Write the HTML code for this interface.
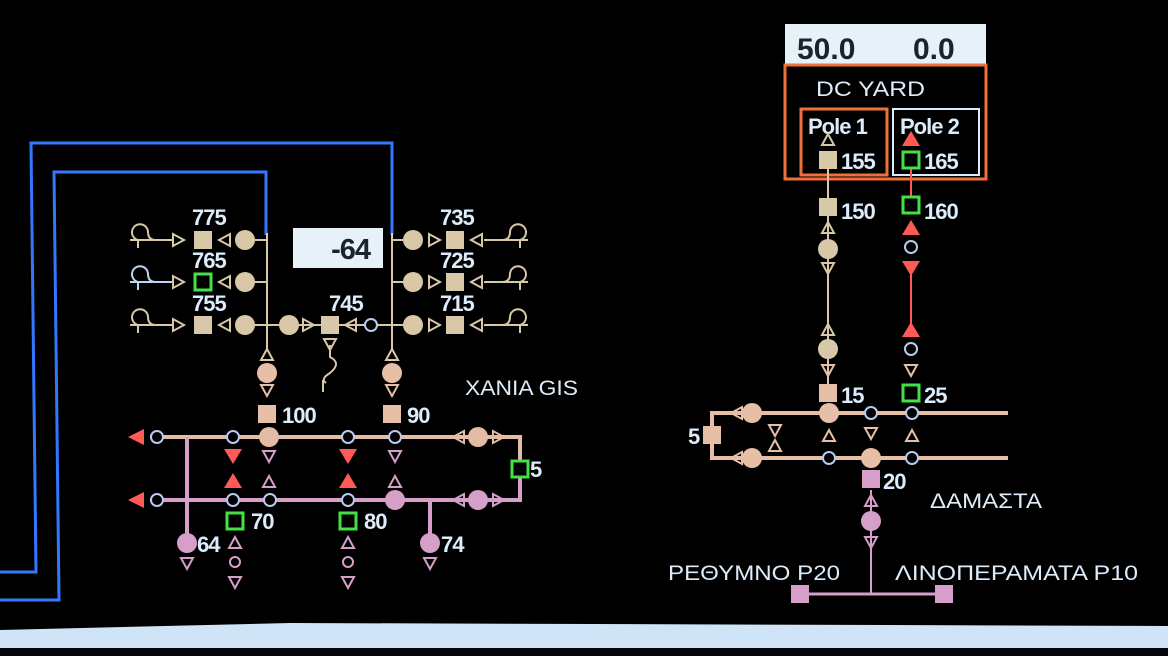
<!DOCTYPE html>
<html><head><meta charset="utf-8"><style>
html,body{margin:0;padding:0;background:#000;}
svg{display:block;}
text{font-family:"Liberation Sans",sans-serif;}
</style></head><body>
<svg width="1168" height="656" viewBox="0 0 1168 656" xmlns="http://www.w3.org/2000/svg">
<defs>
<g id="tu"><polygon points="0,-6 6,5 -6,5" fill="none" stroke="currentColor" stroke-width="2"/></g>
<g id="td"><polygon points="0,6 6,-5 -6,-5" fill="none" stroke="currentColor" stroke-width="2"/></g>
<g id="tr"><polygon points="6,0 -5,-6 -5,6" fill="none" stroke="currentColor" stroke-width="2"/></g>
<g id="tl"><polygon points="-6,0 5,-6 5,6" fill="none" stroke="currentColor" stroke-width="2"/></g>
<g id="ftu"><polygon points="0,-8 9,7 -9,7" fill="#ff5a55"/></g>
<g id="ftd"><polygon points="0,8 9,-7 -9,-7" fill="#ff5a55"/></g>
<g id="hc"><circle r="6" fill="#000" stroke="#b9c9ee" stroke-width="2"/></g>
<g id="fc"><circle r="10" fill="currentColor"/></g>
<g id="sq"><rect x="-9" y="-9" width="18" height="18" fill="currentColor"/></g>
<g id="gsq"><rect x="-8" y="-8" width="16" height="16" fill="#000" stroke="#45e045" stroke-width="3"/></g>
<g id="waveL"><path d="M-28,0 H16 M-20,0 a8,8 0 1 1 10,-8 M-20,-1 v9 M-10,-8 q0,8 8,8" fill="none" stroke="currentColor" stroke-width="2"/></g>
<g id="waveR"><path d="M28,0 H-16 M20,0 a8,8 0 1 0 -10,-8 M20,-1 v9 M10,-8 q0,8 -8,8" fill="none" stroke="currentColor" stroke-width="2"/></g>
</defs>

<g fill="none" stroke="#3377ff" stroke-width="3">
<path d="M0,572 H36 L31,143 H392 V235"/>
<path d="M0,600 H59 L54,172 H266 V235"/>
</g>

<g stroke="#d8c8a8" stroke-width="2" fill="none">
<line x1="267" y1="233" x2="267" y2="350"/>
<line x1="392" y1="233" x2="392" y2="350"/>
<line x1="245" y1="240" x2="267" y2="240"/>
<line x1="245" y1="282" x2="267" y2="282"/>
<line x1="245" y1="325" x2="392" y2="325"/>
<line x1="392" y1="240" x2="413" y2="240"/>
<line x1="392" y1="282" x2="413" y2="282"/>
<line x1="392" y1="325" x2="413" y2="325"/>
<path d="M330,345 v12 q12,6 0,16 q-10,6 -4,10 M323,380 v12" />
</g>
<g color="#d8c8a8">
<use href="#waveL" x="158" y="240"/><use href="#tr" x="178" y="240"/><use href="#sq" x="203" y="240"/><use href="#tl" x="225" y="240"/><use href="#fc" x="245" y="240"/>
<use href="#tl" x="225" y="282"/><use href="#fc" x="245" y="282"/>
<use href="#waveL" x="158" y="325"/><use href="#tr" x="178" y="325"/><use href="#sq" x="203" y="325"/><use href="#tl" x="225" y="325"/><use href="#fc" x="245" y="325"/>
<use href="#fc" x="289" y="325"/><use href="#tr" x="308" y="325"/><use href="#sq" x="330" y="325"/><use href="#tl" x="351" y="325"/>
<use href="#td" x="330" y="344"/>
<use href="#fc" x="413" y="240"/><use href="#tr" x="434" y="240"/><use href="#sq" x="455" y="240"/><use href="#tl" x="477" y="240"/><use href="#waveR" x="500" y="240"/>
<use href="#fc" x="413" y="282"/><use href="#tr" x="434" y="282"/><use href="#sq" x="455" y="282"/><use href="#tl" x="477" y="282"/><use href="#waveR" x="500" y="282"/>
<use href="#fc" x="413" y="325"/><use href="#tr" x="434" y="325"/><use href="#sq" x="455" y="325"/><use href="#tl" x="477" y="325"/><use href="#waveR" x="500" y="325"/>
<use href="#tu" x="267" y="355"/><use href="#tu" x="392" y="355"/>
</g>
<g color="#bcd6f0"><use href="#waveL" x="158" y="282"/></g>
<g color="#d8c8a8"><use href="#tr" x="178" y="282"/><use href="#gsq" x="203" y="282"/></g>
<use href="#hc" x="371" y="325"/>
<g color="#e6bfa6">
<use href="#fc" x="267" y="373"/><use href="#fc" x="392" y="373"/>
<use href="#td" x="267" y="390"/><use href="#td" x="392" y="390"/>
<use href="#sq" x="267" y="414"/><use href="#sq" x="392" y="414"/>
</g>

<g fill="none" stroke-width="4">
<path d="M150,437 H520 V500 H150" stroke="#e3bca6"/>
<path d="M520,468 V500 H150" stroke="#d59fc9"/>
<line x1="187" y1="437" x2="187" y2="540" stroke="#d59fc9"/>
<line x1="430" y1="500" x2="430" y2="540" stroke="#d59fc9"/>
</g>
<polygon points="128,437 144,429 144,445" fill="#ff5a55"/>
<polygon points="128,500 144,492 144,508" fill="#ff5a55"/>
<use href="#hc" x="157" y="437"/><use href="#hc" x="233" y="437"/><use href="#hc" x="348" y="437"/><use href="#hc" x="395" y="437"/>
<use href="#hc" x="157" y="500"/><use href="#hc" x="233" y="500"/><use href="#hc" x="270" y="500"/><use href="#hc" x="348" y="500"/>
<g color="#e3bca6"><use href="#fc" x="269" y="437"/><use href="#tl" x="459" y="437"/><use href="#fc" x="478" y="437"/><use href="#tr" x="498" y="437"/></g>
<g color="#d59fc9"><use href="#fc" x="395" y="500"/><use href="#tl" x="459" y="500"/><use href="#fc" x="478" y="500"/><use href="#tr" x="498" y="500"/>
<use href="#fc" x="187" y="543"/><use href="#fc" x="430" y="543"/>
<use href="#td" x="187" y="563"/><use href="#td" x="430" y="563"/>
<use href="#td" x="269" y="456"/><use href="#tu" x="269" y="482"/><use href="#td" x="395" y="456"/><use href="#tu" x="395" y="482"/>
<use href="#tu" x="235" y="543"/><use href="#td" x="235" y="582"/><use href="#tu" x="348" y="543"/><use href="#td" x="348" y="582"/>
</g>
<g><circle cx="235" cy="562" r="5" fill="none" stroke="#d59fc9" stroke-width="2"/><circle cx="348" cy="562" r="5" fill="none" stroke="#d59fc9" stroke-width="2"/></g>
<use href="#ftd" x="233" y="456"/><use href="#ftu" x="233" y="481"/><use href="#ftd" x="348" y="456"/><use href="#ftu" x="348" y="481"/>
<use href="#gsq" x="520" y="469"/><use href="#gsq" x="235" y="521"/><use href="#gsq" x="348" y="521"/>

<rect x="293" y="228" width="90" height="40" fill="#e6f2f8"/>
<text x="370" y="259" font-size="29" font-weight="bold" fill="#1a2430" text-anchor="end" letter-spacing="-1">-64</text>

<g fill="#dcecfb" font-size="22" font-weight="bold" letter-spacing="-1">
<text x="192" y="225">775</text><text x="192" y="268">765</text><text x="192" y="311">755</text>
<text x="329" y="311">745</text>
<text x="440" y="225">735</text><text x="440" y="268">725</text><text x="440" y="311">715</text>
<text x="282" y="423">100</text><text x="407" y="423">90</text>
<text x="530" y="477">5</text><text x="251" y="529">70</text><text x="364" y="529">80</text>
<text x="197" y="552">64</text><text x="441" y="552">74</text>
</g>
<text x="465" y="395" font-size="21" fill="#dcecfb" textLength="113" lengthAdjust="spacingAndGlyphs">XANIA GIS</text>

<rect x="785" y="24" width="201" height="40" fill="#e6f2f8"/>
<text x="797" y="59" font-size="30" font-weight="bold" fill="#1a2430">50.0</text>
<text x="913" y="59" font-size="30" font-weight="bold" fill="#1a2430">0.0</text>
<rect x="785" y="65" width="201" height="114" fill="none" stroke="#f0703c" stroke-width="3"/>
<rect x="801" y="109" width="86" height="66" fill="none" stroke="#f0703c" stroke-width="3"/>
<rect x="893" y="109" width="86" height="66" fill="none" stroke="#dcecfb" stroke-width="2"/>
<g fill="#dcecfb">
<text x="816" y="96" font-size="21" textLength="109" lengthAdjust="spacingAndGlyphs">DC YARD</text>
<text x="808" y="134" font-size="22" font-weight="bold" letter-spacing="-1">Pole 1</text><text x="900" y="134" font-size="22" font-weight="bold" letter-spacing="-1">Pole 2</text>
<g font-size="22" font-weight="bold" letter-spacing="-1">
<text x="841" y="169">155</text><text x="924" y="169">165</text>
<text x="841" y="219">150</text><text x="924" y="219">160</text>
<text x="841" y="403">15</text><text x="924" y="403">25</text>
<text x="883" y="489">20</text><text x="688" y="444">5</text>
</g>
<text x="930" y="508" font-size="21" textLength="112" lengthAdjust="spacingAndGlyphs">ΔΑΜΑΣΤΑ</text>
<text x="668" y="580" font-size="21" textLength="172" lengthAdjust="spacingAndGlyphs">ΡΕΘΥΜΝΟ P20</text>
<text x="895" y="580" font-size="21" textLength="243" lengthAdjust="spacingAndGlyphs">ΛΙΝΟΠΕΡΑΜΑΤΑ P10</text>
</g>
<line x1="828" y1="168" x2="828" y2="395" stroke="#d8c8a8" stroke-width="2"/>
<line x1="911" y1="168" x2="911" y2="200" stroke="#ff5a55" stroke-width="2"/>
<line x1="911" y1="268" x2="911" y2="330" stroke="#ff5a55" stroke-width="2"/>
<g color="#d8c8a8"><use href="#tu" x="828" y="140"/><use href="#sq" x="828" y="160"/><use href="#sq" x="828" y="207"/>
<use href="#tu" x="828" y="228"/><use href="#fc" x="828" y="249"/><use href="#td" x="828" y="268"/>
<use href="#tu" x="828" y="330"/><use href="#fc" x="828" y="349"/></g>
<g color="#e6bfa6"><use href="#td" x="828" y="370"/><use href="#sq" x="828" y="393"/></g>
<use href="#ftu" x="911" y="139"/><use href="#gsq" x="911" y="160"/><use href="#gsq" x="911" y="205"/>
<use href="#ftu" x="911" y="228"/><use href="#hc" x="911" y="247"/><use href="#ftd" x="911" y="268"/>
<use href="#ftu" x="911" y="330"/><use href="#hc" x="911" y="349"/><g color="#e6bfa6"><use href="#td" x="911" y="370"/></g><use href="#gsq" x="911" y="393"/>

<g fill="none" stroke-width="4">
<path d="M1008,413 H712 V458 H1008" stroke="#e6bfa6"/>
</g>
<line x1="871" y1="490" x2="871" y2="594" stroke="#d59fc9" stroke-width="2"/>
<line x1="800" y1="594" x2="944" y2="594" stroke="#d59fc9" stroke-width="3"/>
<g color="#e6bfa6">
<use href="#sq" x="712" y="435"/>
<use href="#tl" x="737" y="413"/><use href="#fc" x="752" y="413"/><use href="#fc" x="829" y="413"/>
<use href="#tl" x="737" y="458"/><use href="#fc" x="752" y="458"/><use href="#fc" x="871" y="458"/>
<use href="#td" x="775" y="430"/><use href="#tu" x="775" y="446"/><use href="#tu" x="829" y="436"/><use href="#td" x="871" y="433"/><use href="#tu" x="912" y="436"/>
</g>
<use href="#hc" x="871" y="413"/><use href="#hc" x="912" y="413"/><use href="#hc" x="829" y="458"/><use href="#hc" x="912" y="458"/>
<g color="#d59fc9"><use href="#sq" x="871" y="479"/><use href="#tu" x="871" y="501"/><use href="#fc" x="871" y="521"/><use href="#td" x="871" y="542"/>
<use href="#sq" x="800" y="594"/><use href="#sq" x="944" y="594"/></g>

<polygon points="0,630 290,623 1168,626 1168,648 0,648" fill="#cfe4f6"/>
<polygon points="0,648 1168,648 1168,656 0,656" fill="#05070c"/>
</svg>
</body></html>
